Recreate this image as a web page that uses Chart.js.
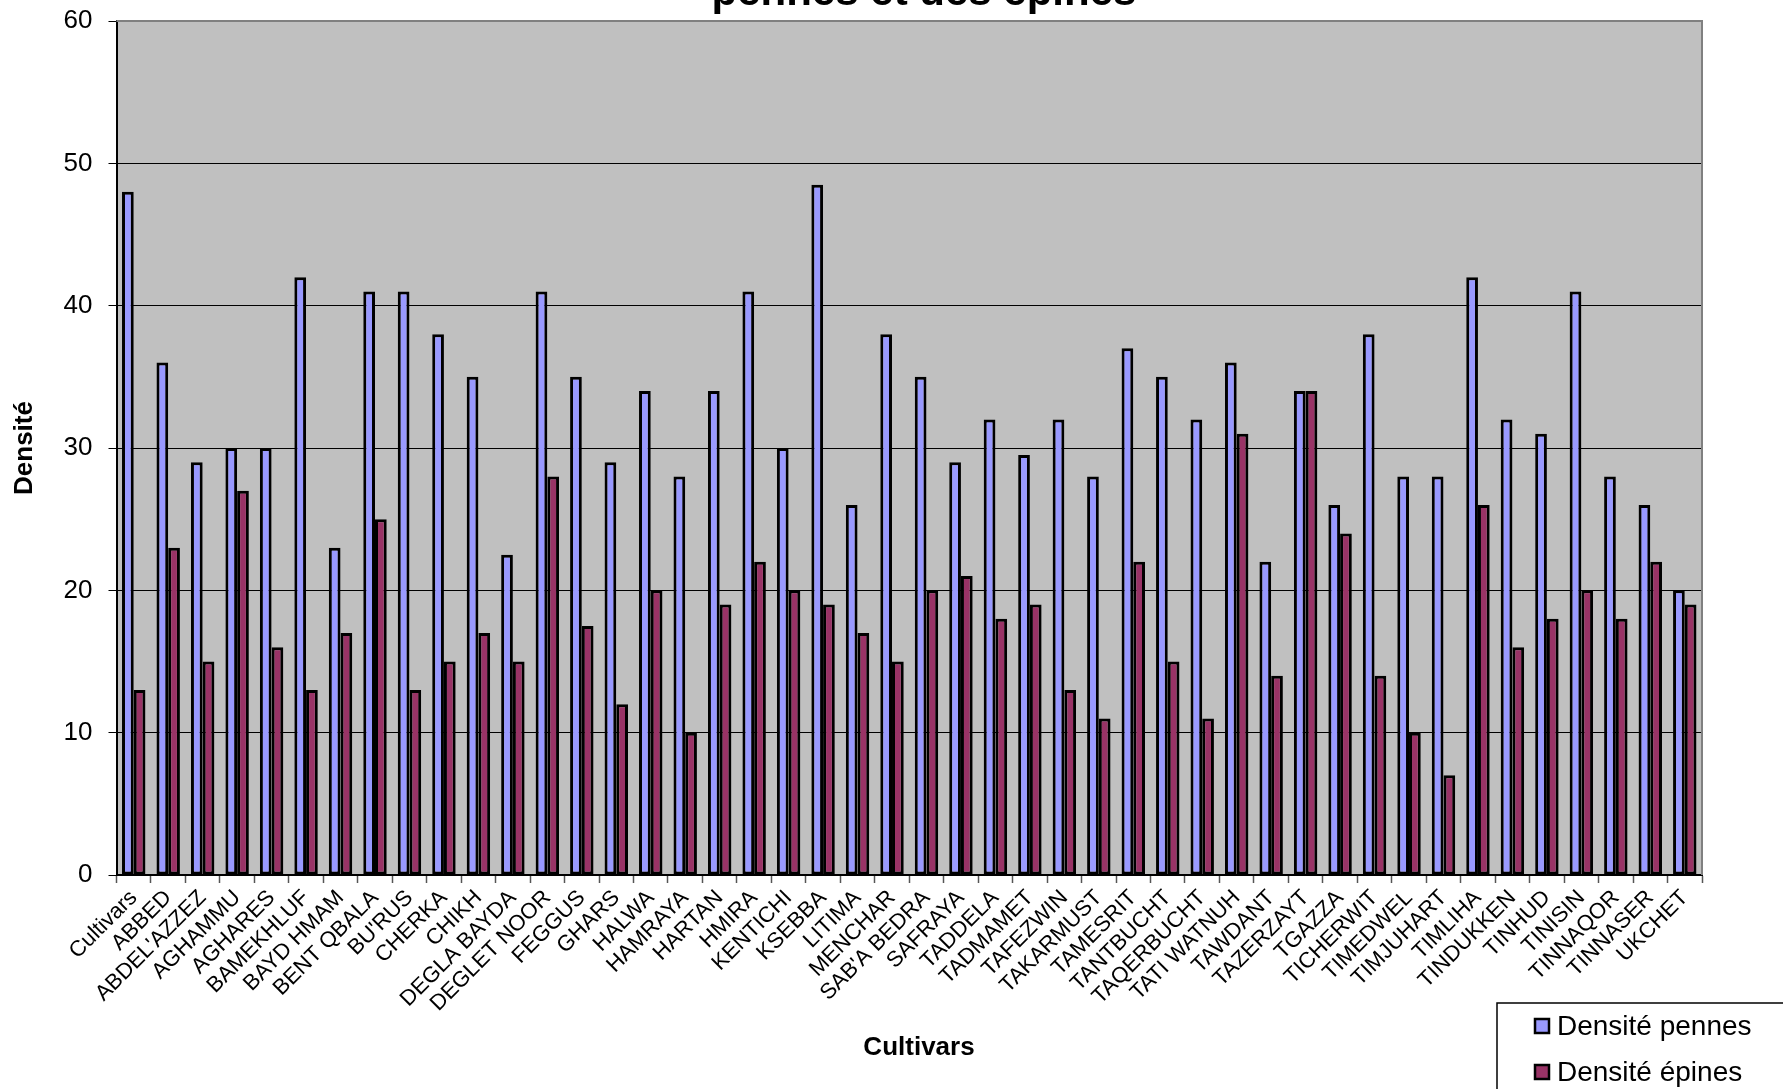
<!DOCTYPE html>
<html lang="fr">
<head>
<meta charset="utf-8">
<title>Densité des pennes et des épines</title>
<script src="https://cdn.jsdelivr.net/npm/chart.js@4/dist/chart.umd.min.js"></script>
<style>
  html, body { margin: 0; padding: 0; background: #ffffff; overflow: hidden; }
  canvas { display: block; }
</style>
</head>
<body>
<canvas id="chart" width="1783" height="1089"></canvas>
<script>
// Cultivars on the x axis
const cultivars = [
  "Cultivars", "ABBED", "ABDEL'AZZEZ", "AGHAMMU", "AGHARES", "BAMEKHLUF",
  "BAYD HMAM", "BENT QBALA", "BU'RUS", "CHERKA", "CHIKH", "DEGLA BAYDA",
  "DEGLET NOOR", "FEGGUS", "GHARS", "HALWA", "HAMRAYA", "HARTAN", "HMIRA",
  "KENTICHI", "KSEBBA", "LITIMA", "MENCHAR", "SAB'A BEDRA", "SAFRAYA",
  "TADDELA", "TADMAMET", "TAFEZWIN", "TAKARMUST", "TAMESRIT", "TANTBUCHT",
  "TAQERBUCHT", "TATI WATNUH", "TAWDANT", "TAZERZAYT", "TGAZZA", "TICHERWIT",
  "TIMEDWEL", "TIMJUHART", "TIMLIHA", "TINDUKKEN", "TINHUD", "TINISIN",
  "TINNAQOR", "TINNASER", "UKCHET"
];

// Densité des pennes
const densitePennes = [
  48, 36, 29, 30, 30, 42, 23, 41, 41, 38, 35, 22.5,
  41, 35, 29, 34, 28, 34, 41, 30, 48.5, 26, 38, 35,
  29, 32, 29.5, 32, 28, 37, 35, 32, 36, 22, 34, 26,
  38, 28, 28, 42, 32, 31, 41, 28, 26, 20
];

// Densité des épines
const densiteEpines = [
  13, 23, 15, 27, 16, 13, 17, 25, 13, 15, 17, 15,
  28, 17.5, 12, 20, 10, 19, 22, 20, 19, 17, 15, 20,
  21, 18, 19, 13, 11, 22, 15, 11, 31, 14, 34, 24,
  14, 10, 7, 26, 16, 18, 20, 18, 22, 19
];

const seriesLabels = ["Densité pennes", "Densité épines"];
const yTicks = { min: 0, max: 60, step: 10 };
const chartTitle = "pennes et des épines";
const xTitle = "Cultivars";
const yTitle = "Densité";

const FONT = "'Liberation Sans', Arial, Helvetica, sans-serif";

// grey plot background and the grey frame on top / right
const plotFrame = {
  id: 'plotFrame',
  beforeDraw(chart) {
    const { ctx, chartArea: a } = chart;
    ctx.save();
    ctx.fillStyle = '#C0C0C0';
    ctx.fillRect(a.left, a.top, a.right - a.left, a.bottom - a.top);
    ctx.restore();
  },
  afterDatasetsDraw(chart) {
    const { ctx, chartArea: a } = chart;
    ctx.save();
    ctx.strokeStyle = '#808080';
    ctx.lineWidth = 2;
    ctx.beginPath();
    ctx.moveTo(a.left, a.top);
    ctx.lineTo(a.right, a.top);
    ctx.lineTo(a.right, a.bottom);
    ctx.stroke();
    ctx.restore();
  }
};

// chart title at the very top edge, plus the x axis title under the labels
const textLayer = {
  id: 'textLayer',
  afterDraw(chart) {
    const { ctx } = chart;
    ctx.save();
    ctx.fillStyle = '#000';
    ctx.textAlign = 'center';
    ctx.textBaseline = 'alphabetic';
    ctx.font = "bold 42px " + FONT;
    ctx.fillText(chartTitle, 924, 5);
    ctx.textBaseline = 'middle';
    ctx.font = "bold 26px " + FONT;
    ctx.fillText(xTitle, 919, 1048);
    ctx.restore();
  }
};

// boxed legend in the lower right corner
const boxLegend = {
  id: 'boxLegend',
  afterDraw(chart) {
    const { ctx } = chart;
    const boxLeft = 1497, boxTop = 1003;
    ctx.save();
    ctx.strokeStyle = '#000';
    ctx.lineWidth = 1.5;
    ctx.strokeRect(boxLeft, boxTop, 400, 200);
    ctx.font = "28px " + FONT;
    ctx.textAlign = 'left';
    ctx.textBaseline = 'middle';
    chart.data.datasets.forEach((ds, i) => {
      const cy = 1026 + i * 46;
      ctx.fillStyle = ds.backgroundColor;
      ctx.fillRect(1535, cy - 7, 14, 14);
      ctx.lineWidth = 2.5;
      ctx.strokeStyle = '#000';
      ctx.strokeRect(1535, cy - 7, 14, 14);
      ctx.fillStyle = '#000';
      ctx.fillText(ds.label, 1557, cy + 1);
    });
    ctx.restore();
  }
};

new Chart(document.getElementById('chart'), {
  type: 'bar',
  data: {
    labels: cultivars,
    datasets: [
      {
        label: seriesLabels[0],
        data: densitePennes,
        backgroundColor: '#9999FF',
        borderColor: '#000000',
        borderWidth: 3,
        borderSkipped: false
      },
      {
        label: seriesLabels[1],
        data: densiteEpines,
        backgroundColor: '#993366',
        borderColor: '#000000',
        borderWidth: 3,
        borderSkipped: false
      }
    ]
  },
  options: {
    responsive: false,
    animation: false,
    devicePixelRatio: 1,
    layout: { padding: { top: 21, right: 81, left: 0, bottom: 0 } },
    datasets: { bar: { categoryPercentage: 0.68, barPercentage: 1.0 } },
    plugins: {
      legend: { display: false },
      title: { display: false },
      tooltip: { enabled: false }
    },
    scales: {
      x: {
        offset: true,
        afterFit(scale) { scale.height = 214; },
        grid: {
          offset: true,
          drawOnChartArea: false,
          drawTicks: true,
          tickLength: 8,
          tickColor: '#555555',
          tickWidth: 1.5
        },
        border: { display: true, color: '#000000', width: 2 },
        ticks: {
          autoSkip: false,
          maxRotation: 45,
          minRotation: 45,
          padding: 2,
          color: '#000000',
          font: { family: FONT, size: 22 }
        },
        title: { display: false }
      },
      y: {
        min: yTicks.min,
        max: yTicks.max,
        afterFit(scale) {
          scale.width = 116.5;
          scale.paddingTop = 0;
          scale.paddingBottom = 0;
        },
        grid: {
          color: '#000000',
          lineWidth: 1,
          drawTicks: true,
          tickLength: 8,
          tickColor: '#000000'
        },
        border: { display: true, color: '#000000', width: 2 },
        ticks: {
          stepSize: yTicks.step,
          padding: 16,
          color: '#000000',
          font: { family: FONT, size: 26 }
        },
        title: {
          display: true,
          text: yTitle,
          color: '#000000',
          font: { family: FONT, size: 26, weight: 'bold' },
          padding: { top: 9, bottom: 0 }
        }
      }
    }
  },
  plugins: [plotFrame, textLayer, boxLegend]
});
</script>
</body>
</html>
